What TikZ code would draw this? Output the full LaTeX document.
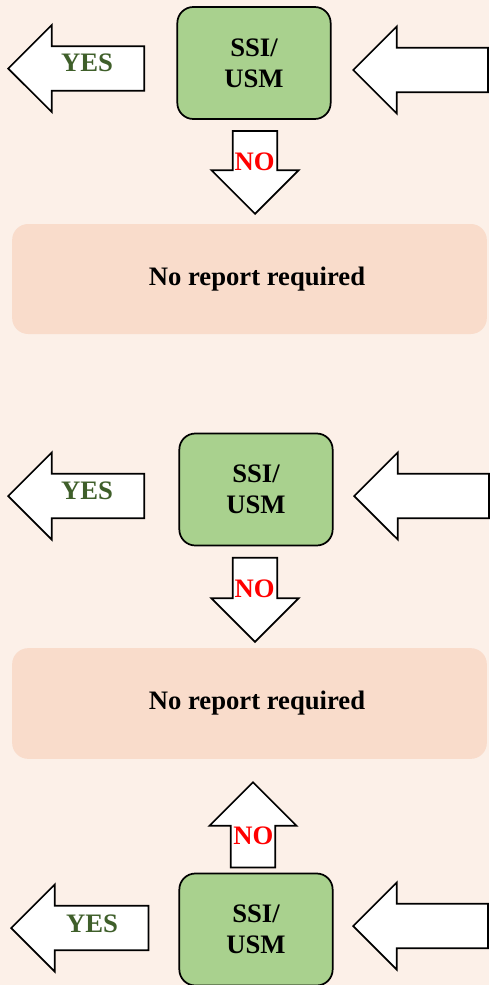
\documentclass[tikz,border=0pt]{standalone}
\usepackage{fontspec}
\setmainfont{Liberation Serif}
\usetikzlibrary{shapes.arrows}

\definecolor{bgcream}{HTML}{FCF0E8}
\definecolor{reportpink}{HTML}{F9DCCB}
\definecolor{boxgreen}{HTML}{A9D18E}
\definecolor{yesgreen}{HTML}{3F5F2A}
\definecolor{nored}{HTML}{FF0000}

\tikzset{
  bigfont/.style={font=\bfseries\fontsize{20}{23}\selectfont},
  ssibox/.style={draw, line width=1.3pt, fill=boxgreen, rounded corners=12pt,
    minimum width=115pt, minimum height=84pt, align=center, bigfont},
  reportbox/.style={fill=reportpink, rounded corners=12pt,
    minimum width=356pt, minimum height=83pt},
  blockarrow/.style={single arrow, draw, line width=1.3pt, fill=white,
    single arrow head extend=16pt, anchor=tip},
  sidearrow/.style={blockarrow, inner xsep=0pt, inner ysep=16pt},
  uparrow/.style={blockarrow, inner xsep=16pt, inner ysep=0pt},
  yestext/.style={bigfont, text=yesgreen},
  notext/.style={bigfont, text=nored}
}

\begin{document}
\begin{tikzpicture}[x=0.75pt, y=-0.75pt]
  \fill[bgcream] (0,0) rectangle (489,985);
  \useasboundingbox (0,0) rectangle (489,985);

  % first check
  \node[ssibox] (ssi1) at (254,63) {SSI/\\USM};
  \node[sidearrow, minimum height=102pt, shape border rotate=180] (yes1) at (7,68.5) {};
  \node[yestext] (yeslbl1) at (87,63) {YES};
  \node[sidearrow, minimum height=101pt, shape border rotate=180] (in1) at (352,70) {};
  \node[uparrow, minimum height=62pt, shape border rotate=270] (no1) at (255,215) {};
  \node[notext] (nolbl1) at (254.5,162) {NO};
  \node[reportbox, minimum height=82.5pt] (rep1) at (249.5,279) {};
  \node[bigfont] (reptxt1) at (257,279) {No report required};

  % second check
  \node[ssibox] (ssi2) at (256,489.5) {SSI/\\USM};
  \node[sidearrow, minimum height=102pt, shape border rotate=180] (yes2) at (7,496) {};
  \node[yestext] (yeslbl2) at (87,491) {YES};
  \node[sidearrow, minimum height=101pt, shape border rotate=180] (in2) at (353,496) {};
  \node[uparrow, minimum height=63pt, shape border rotate=270] (no2) at (255,643) {};
  \node[notext] (nolbl2) at (254.7,589) {NO};
  \node[reportbox] (rep2) at (249.5,703.5) {};
  \node[bigfont] (reptxt2) at (257,703.5) {No report required};

  % third check
  \node[uparrow, minimum height=64pt, shape border rotate=90] (no3) at (253,781) {};
  \node[notext] (nolbl3) at (253.3,835.5) {NO};
  \node[ssibox] (ssi3) at (256,929.5) {SSI/\\USM};
  \node[sidearrow, minimum height=103pt, shape border rotate=180] (yes3) at (10,928) {};
  \node[yestext] (yeslbl3) at (92,924) {YES};
  \node[sidearrow, minimum height=101pt, shape border rotate=180] (in3) at (352,926) {};
\end{tikzpicture}
\end{document}
